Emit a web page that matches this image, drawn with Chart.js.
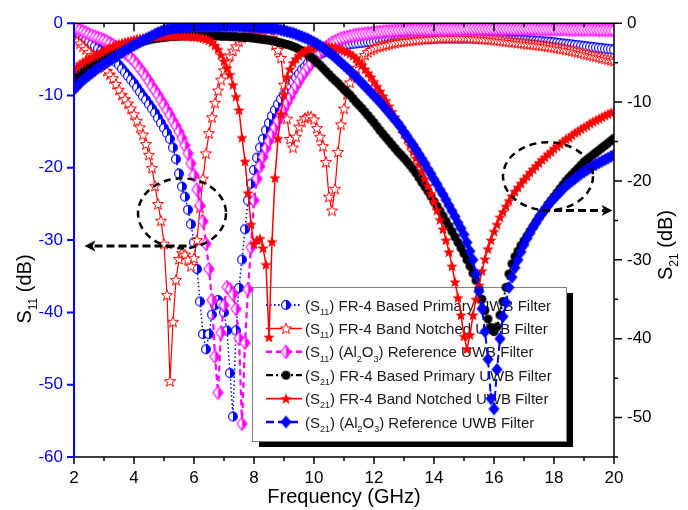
<!DOCTYPE html>
<html>
<head>
<meta charset="utf-8">
<script src="https://cdn.jsdelivr.net/npm/chart.js@4.4.1/dist/chart.umd.min.js"></script>
<style>
  html, body { margin: 0; padding: 0; background: #fff; }
  #wrap { width: 688px; height: 510px; }
</style>
</head>
<body>
<div id="wrap"><canvas id="chart" width="688" height="510"></canvas></div>
<script>
// frequency grid, GHz
const freq = [];
for (let i = 0; i <= 180; i++) freq.push(Math.round((2 + i * 0.1) * 10) / 10);

const xTicks = [2, 4, 6, 8, 10, 12, 14, 16, 18, 20];
const s11Ticks = [0, -10, -20, -30, -40, -50, -60];
const s21Ticks = [0, -10, -20, -30, -40, -50];

// S11 (dB), left axis
const s11Primary = [
  -1.2, -1.4, -1.7, -2.0, -2.3, -2.6, -2.9, -3.2, -3.5, -3.8,
  -4.1, -4.4, -4.8, -5.1, -5.4, -5.8, -6.3, -6.8, -7.3, -7.8,
  -8.3, -8.9, -9.5, -10.1, -10.6, -11.2, -11.8, -12.4, -13.1, -13.8,
  -14.5, -15.2, -16.0, -17.2, -18.8, -20.8, -22.6, -24.0, -25.8, -27.8,
  -30.3, -34.0, -38.5, -43.0, -45.1, -43.0, -40.3, -39.0, -38.3, -38.8,
  -40.0, -42.5, -48.4, -54.4, -42.5, -36.6, -32.7, -28.5, -24.5, -22.2,
  -20.3, -18.6, -17.2, -16.0, -14.8, -13.8, -12.8, -12.0, -11.2, -10.5,
  -9.9, -9.2, -8.6, -8.1, -7.5, -7.0, -6.4, -6.0, -5.5, -5.1,
  -4.8, -4.5, -4.3, -4.1, -3.9, -3.7, -3.6, -3.4, -3.3, -3.2,
  -3.1, -3.0, -2.9, -2.85, -2.8, -2.75, -2.7, -2.65, -2.6, -2.6,
  -2.55, -2.5, -2.5, -2.45, -2.4, -2.4, -2.35, -2.35, -2.3, -2.3,
  -2.3, -2.25, -2.25, -2.2, -2.2, -2.2, -2.2, -2.15, -2.15, -2.15,
  -2.15, -2.1, -2.1, -2.1, -2.1, -2.1, -2.1, -2.1, -2.1, -2.1,
  -2.1, -2.1, -2.1, -2.1, -2.15, -2.15, -2.15, -2.2, -2.2, -2.2,
  -2.2, -2.2, -2.25, -2.25, -2.25, -2.3, -2.3, -2.3, -2.3, -2.3,
  -2.35, -2.35, -2.4, -2.4, -2.45, -2.45, -2.5, -2.55, -2.55, -2.6,
  -2.65, -2.7, -2.75, -2.8, -2.85, -2.9, -2.95, -3.0, -3.05, -3.1,
  -3.15, -3.2, -3.25, -3.3, -3.35, -3.4, -3.45, -3.5, -3.55, -3.6,
  -3.65
];
const s11Notched = [
  -2.2, -2.5, -2.8, -3.2, -3.6, -4.0, -4.4, -4.8, -5.2, -5.7,
  -6.1, -6.6, -7.1, -7.6, -8.4, -9.2, -9.9, -10.5, -11.1, -11.8,
  -12.6, -13.5, -14.4, -15.4, -16.7, -18.2, -20.0, -22.5, -25.0, -27.3,
  -30.5, -37.6, -49.5, -41.3, -35.5, -32.6, -31.8, -32.0, -32.7, -33.6,
  -32.5, -30.0, -25.5, -21.5, -18.0, -15.2, -13.0, -11.0, -9.3, -7.8,
  -6.5, -5.4, -4.5, -3.8, -3.2, -2.5, -2.0, -1.7, -1.6, -1.6,
  -1.6, -1.6, -1.6, -1.6, -1.6, -1.7, -2.0, -3.0, -3.7, -4.8,
  -8.5, -13.2, -16.0, -17.2, -15.7, -14.3, -13.6, -13.1, -12.9, -12.9,
  -13.3, -14.5, -15.7, -17.0, -19.2, -24.0, -25.9, -22.9, -17.8, -14.0,
  -11.8, -9.8, -8.2, -7.1, -6.2, -5.5, -4.9, -4.4, -4.0, -3.7,
  -3.5, -3.3, -3.2, -3.1, -3.0, -2.9, -2.8, -2.7, -2.6, -2.55,
  -2.5, -2.45, -2.4, -2.35, -2.3, -2.25, -2.2, -2.2, -2.15, -2.1,
  -2.1, -2.05, -2.05, -2.0, -2.0, -2.0, -2.0, -2.0, -2.0, -2.0,
  -2.0, -2.0, -2.05, -2.05, -2.1, -2.1, -2.15, -2.2, -2.2, -2.25,
  -2.3, -2.35, -2.4, -2.45, -2.5, -2.55, -2.6, -2.65, -2.7, -2.75,
  -2.8, -2.85, -2.9, -2.95, -3.0, -3.05, -3.1, -3.15, -3.2, -3.3,
  -3.35, -3.4, -3.5, -3.55, -3.65, -3.7, -3.8, -3.9, -4.0, -4.1,
  -4.2, -4.3, -4.4, -4.5, -4.6, -4.7, -4.8, -4.9, -5.0, -5.1,
  -5.2
];
const s11Ref = [
  -0.5, -0.7, -0.9, -1.1, -1.3, -1.5, -1.7, -1.85, -2.0, -2.15,
  -2.3, -2.5, -2.75, -3.0, -3.25, -3.5, -3.8, -4.1, -4.4, -4.8,
  -5.2, -5.7, -6.3, -6.8, -7.4, -8.0, -8.7, -9.3, -9.9, -10.6,
  -11.3, -12.0, -12.7, -13.5, -14.2, -15.0, -15.9, -16.9, -18.0, -19.4,
  -21.0, -23.0, -25.2, -27.4, -30.5, -34.0, -38.3, -46.1, -51.1, -42.8,
  -39.0, -36.5, -36.8, -37.5, -39.5, -43.6, -55.4, -44.2, -36.8, -31.0,
  -24.5, -21.5, -19.8, -18.5, -17.3, -16.3, -15.3, -14.4, -13.5, -12.6,
  -11.8, -11.0, -10.2, -9.4, -8.7, -8.0, -7.3, -6.7, -6.1, -5.6,
  -5.0, -4.5, -4.1, -3.7, -3.3, -3.0, -2.7, -2.5, -2.3, -2.1,
  -2.0, -1.9, -1.8, -1.7, -1.6, -1.55, -1.5, -1.45, -1.4, -1.35,
  -1.3, -1.25, -1.2, -1.15, -1.1, -1.1, -1.05, -1.0, -1.0, -0.95,
  -0.95, -0.9, -0.9, -0.9, -0.9, -0.9, -0.9, -0.9, -0.9, -0.9,
  -0.85, -0.85, -0.85, -0.85, -0.85, -0.85, -0.85, -0.85, -0.85, -0.85,
  -0.8, -0.8, -0.8, -0.8, -0.8, -0.8, -0.8, -0.8, -0.8, -0.8,
  -0.8, -0.8, -0.8, -0.8, -0.8, -0.8, -0.8, -0.8, -0.8, -0.8,
  -0.8, -0.8, -0.8, -0.8, -0.8, -0.85, -0.85, -0.85, -0.85, -0.85,
  -0.85, -0.85, -0.85, -0.85, -0.85, -0.9, -0.9, -0.9, -0.9, -0.9,
  -0.9, -0.9, -0.9, -0.9, -0.9, -0.95, -0.95, -0.95, -0.95, -0.95,
  -1.0
];

// S21 (dB), right axis
const s21Primary = [
  -7.0, -6.7, -6.4, -6.1, -5.8, -5.5, -5.25, -5.0, -4.8, -4.6,
  -4.4, -4.2, -4.0, -3.8, -3.6, -3.4, -3.2, -3.05, -2.9, -2.75,
  -2.6, -2.5, -2.4, -2.3, -2.2, -2.1, -2.0, -1.95, -1.9, -1.85,
  -1.8, -1.75, -1.7, -1.7, -1.65, -1.65, -1.6, -1.6, -1.6, -1.6,
  -1.6, -1.6, -1.6, -1.6, -1.6, -1.6, -1.6, -1.6, -1.6, -1.65,
  -1.65, -1.65, -1.7, -1.7, -1.7, -1.75, -1.75, -1.8, -1.8, -1.85,
  -1.9, -1.95, -2.0, -2.05, -2.1, -2.15, -2.2, -2.3, -2.4, -2.5,
  -2.6, -2.7, -2.8, -2.95, -3.1, -3.3, -3.5, -3.75, -4.0, -4.3,
  -4.6, -5.0, -5.3, -5.7, -6.1, -6.5, -6.9, -7.25, -7.6, -8.0,
  -8.4, -8.75, -9.1, -9.55, -10.0, -10.4, -10.8, -11.25, -11.7, -12.15,
  -12.6, -13.1, -13.6, -14.05, -14.5, -14.95, -15.4, -15.85, -16.3, -16.7,
  -17.1, -17.55, -18.0, -18.5, -19.0, -19.6, -20.2, -20.75, -21.3, -21.95,
  -22.6, -23.2, -23.8, -24.45, -25.1, -25.75, -26.4, -27.1, -27.8, -28.5,
  -29.2, -30.0, -30.8, -31.7, -32.6, -33.7, -35.0, -36.4, -37.5, -38.6,
  -39.1, -38.5, -37.0, -35.3, -33.5, -31.8, -30.5, -29.6, -28.9, -28.2,
  -27.6, -27.0, -26.4, -25.8, -25.2, -24.6, -24.1, -23.6, -23.0, -22.5,
  -22.0, -21.5, -21.0, -20.5, -20.0, -19.6, -19.2, -18.8, -18.4, -18.0,
  -17.6, -17.3, -17.0, -16.7, -16.4, -16.1, -15.8, -15.5, -15.2, -14.9,
  -14.6
];
const s21Notched = [
  -5.8, -5.5, -5.2, -4.95, -4.7, -4.5, -4.3, -4.1, -3.9, -3.7,
  -3.5, -3.3, -3.1, -2.95, -2.8, -2.65, -2.5, -2.4, -2.3, -2.2,
  -2.1, -2.0, -1.95, -1.9, -1.85, -1.8, -1.75, -1.7, -1.7, -1.65,
  -1.65, -1.6, -1.6, -1.6, -1.6, -1.6, -1.6, -1.6, -1.65, -1.65,
  -1.7, -1.75, -1.8, -1.9, -2.0, -2.15, -2.4, -2.8, -3.3, -4.0,
  -4.8, -5.7, -6.5, -7.8, -9.3, -11.0, -14.5, -17.5, -21.5, -25.5,
  -28.0, -27.5, -27.3, -28.5, -30.6, -39.8, -27.7, -19.6, -14.6, -11.5,
  -9.0, -6.8, -5.8, -5.0, -4.5, -4.1, -3.8, -3.5, -3.3, -3.15,
  -3.05, -2.95, -2.9, -2.9, -2.9, -2.95, -3.0, -3.1, -3.2, -3.35,
  -3.5, -3.65, -3.85, -4.1, -4.45, -4.85, -5.3, -5.8, -6.3, -6.8,
  -7.4, -8.0, -8.6, -9.2, -9.8, -10.5, -11.2, -11.9, -12.6, -13.3,
  -14.0, -14.7, -15.5, -16.3, -17.1, -17.9, -18.8, -19.7, -20.6, -21.6,
  -22.6, -23.7, -24.9, -26.1, -27.5, -29.0, -30.8, -32.8, -34.8, -37.0,
  -39.7, -41.3, -39.5, -37.0, -35.0, -33.2, -31.4, -29.9, -28.6, -27.5,
  -26.4, -25.5, -24.6, -23.9, -23.2, -22.5, -21.9, -21.3, -20.8, -20.3,
  -19.8, -19.4, -18.9, -18.5, -18.1, -17.7, -17.3, -17.0, -16.6, -16.3,
  -15.9, -15.6, -15.3, -15.0, -14.7, -14.5, -14.2, -13.9, -13.7, -13.4,
  -13.2, -13.0, -12.7, -12.5, -12.3, -12.1, -11.9, -11.7, -11.5, -11.35,
  -11.2
];
const s21Ref = [
  -8.4, -8.0, -7.6, -7.2, -6.9, -6.6, -6.3, -6.0, -5.7, -5.45,
  -5.2, -4.95, -4.7, -4.45, -4.2, -3.95, -3.7, -3.45, -3.2, -3.0,
  -2.8, -2.6, -2.4, -2.2, -2.0, -1.8, -1.6, -1.4, -1.2, -1.05,
  -0.9, -0.8, -0.7, -0.65, -0.6, -0.55, -0.5, -0.5, -0.45, -0.45,
  -0.4, -0.4, -0.4, -0.4, -0.4, -0.4, -0.4, -0.4, -0.4, -0.4,
  -0.4, -0.4, -0.4, -0.4, -0.4, -0.4, -0.45, -0.45, -0.45, -0.5,
  -0.5, -0.5, -0.55, -0.55, -0.6, -0.6, -0.65, -0.7, -0.75, -0.85,
  -0.95, -1.05, -1.15, -1.25, -1.4, -1.55, -1.7, -1.85, -2.0, -2.2,
  -2.4, -2.6, -2.85, -3.1, -3.4, -3.7, -4.0, -4.3, -4.65, -5.0,
  -5.35, -5.7, -6.05, -6.4, -6.8, -7.2, -7.6, -8.0, -8.4, -8.8,
  -9.2, -9.6, -10.0, -10.45, -10.9, -11.35, -11.8, -12.25, -12.7, -13.2,
  -13.8, -14.3, -14.9, -15.4, -16.0, -16.6, -17.2, -17.8, -18.5, -19.1,
  -19.8, -20.4, -21.1, -21.7, -22.4, -23.1, -23.8, -24.5, -25.3, -26.0,
  -26.8, -27.8, -28.9, -30.0, -31.8, -34.0, -36.2, -39.1, -42.6, -47.6,
  -48.9, -43.9, -40.0, -37.2, -35.4, -33.5, -32.2, -31.0, -30.0, -29.0,
  -28.1, -27.3, -26.6, -25.9, -25.3, -24.7, -24.1, -23.6, -23.1, -22.6,
  -22.2, -21.8, -21.4, -21.0, -20.6, -20.3, -20.0, -19.7, -19.4, -19.1,
  -18.85, -18.6, -18.35, -18.1, -17.9, -17.7, -17.5, -17.3, -17.1, -16.9,
  -16.7
];

const FONT = "'Liberation Sans', Arial, sans-serif";
const BLUE = '#0000ff';
const RED = '#ff0000';
const MAGENTA = '#ff00ff';

// marker sprites
function sprite(w, h, paint) {
  const c = document.createElement('canvas');
  c.width = w; c.height = h;
  paint(c.getContext('2d'), w / 2, h / 2);
  return c;
}
function starPath(g, cx, cy, R, r) {
  g.beginPath();
  for (let i = 0; i < 10; i++) {
    const a = -Math.PI / 2 + i * Math.PI / 5;
    const rr = i % 2 ? r : R;
    g.lineTo(cx + rr * Math.cos(a), cy + rr * Math.sin(a));
  }
  g.closePath();
}
function diamondPath(g, cx, cy, hw, hh) {
  g.beginPath();
  g.moveTo(cx, cy - hh); g.lineTo(cx + hw, cy); g.lineTo(cx, cy + hh); g.lineTo(cx - hw, cy);
  g.closePath();
}
const mk = {
  halfCircle: sprite(12, 12, (g, cx, cy) => {
    g.beginPath(); g.arc(cx, cy, 4.4, 0, Math.PI * 2); g.fillStyle = '#fff'; g.fill();
    g.beginPath(); g.moveTo(cx, cy - 4.4); g.arc(cx, cy, 4.4, -Math.PI / 2, Math.PI / 2); g.closePath();
    g.fillStyle = BLUE; g.fill();
    g.beginPath(); g.arc(cx, cy, 4.4, 0, Math.PI * 2); g.strokeStyle = BLUE; g.lineWidth = 1.1; g.stroke();
  }),
  openStar: sprite(14, 14, (g, cx, cy) => {
    starPath(g, cx, cy + 0.5, 5.8, 2.5);
    g.fillStyle = '#fff'; g.fill();
    g.strokeStyle = RED; g.lineWidth = 1; g.stroke();
  }),
  halfDiamond: sprite(13, 16, (g, cx, cy) => {
    diamondPath(g, cx, cy, 5, 6.5); g.fillStyle = '#fff'; g.fill();
    g.beginPath(); g.moveTo(cx, cy - 6.5); g.lineTo(cx + 5, cy); g.lineTo(cx, cy + 6.5); g.closePath();
    g.fillStyle = MAGENTA; g.fill();
    diamondPath(g, cx, cy, 5, 6.5); g.strokeStyle = MAGENTA; g.lineWidth = 1.1; g.stroke();
  }),
  dot: sprite(11, 11, (g, cx, cy) => {
    g.beginPath(); g.arc(cx, cy, 4.5, 0, Math.PI * 2); g.fillStyle = '#000'; g.fill();
  }),
  fullStar: sprite(14, 14, (g, cx, cy) => {
    starPath(g, cx, cy + 0.5, 6, 2.6); g.fillStyle = RED; g.fill();
  }),
  fullDiamond: sprite(13, 15, (g, cx, cy) => {
    diamondPath(g, cx, cy, 5.5, 6.5); g.fillStyle = BLUE; g.fill();
  })
};

const pts = arr => freq.map((f, i) => ({ x: f, y: arr[i] }));

const series = [
  { key: 's11Primary', data: s11Primary, axis: 'y', color: BLUE, dash: [1.5, 2.5], width: 1.5, marker: mk.halfCircle,
    label: [['(S', 0], ['11', 1], [') FR-4 Based Primary UWB Filter', 0]] },
  { key: 's11Notched', data: s11Notched, axis: 'y', color: RED, dash: [], width: 1.2, marker: mk.openStar,
    label: [['(S', 0], ['11', 1], [') FR-4 Band Notched UWB Filter', 0]] },
  { key: 's11Ref', data: s11Ref, axis: 'y', color: MAGENTA, dash: [6, 4], width: 2.2, marker: mk.halfDiamond,
    label: [['(S', 0], ['11', 1], [') (Al', 0], ['2', 1], ['O', 0], ['3', 1], [') Reference UWB Filter', 0]] },
  { key: 's21Primary', data: s21Primary, axis: 'y2', color: '#000', dash: [7, 3, 2, 3], width: 2, marker: mk.dot,
    label: [['(S', 0], ['21', 1], [') FR-4 Based Primary UWB Filter', 0]] },
  { key: 's21Notched', data: s21Notched, axis: 'y2', color: RED, dash: [], width: 1.5, marker: mk.fullStar,
    label: [['(S', 0], ['21', 1], [') FR-4 Band Notched UWB Filter', 0]] },
  { key: 's21Ref', data: s21Ref, axis: 'y2', color: BLUE, dash: [8, 4], width: 2, marker: mk.fullDiamond,
    label: [['(S', 0], ['21', 1], [') (Al', 0], ['2', 1], ['O', 0], ['3', 1], [') Reference UWB Filter', 0]] }
];

// text with subscripts, baseline at y
function richWidth(ctx, segs, size) {
  let w = 0;
  for (const [t, sub] of segs) {
    ctx.font = (sub ? Math.round(size * 0.62) : size) + 'px ' + FONT;
    w += ctx.measureText(t).width;
  }
  return w;
}
function drawRich(ctx, segs, x, y, size) {
  let cx = x;
  for (const [t, sub] of segs) {
    ctx.font = (sub ? Math.round(size * 0.62) : size) + 'px ' + FONT;
    ctx.fillText(t, cx, sub ? y + size * 0.28 : y);
    cx += ctx.measureText(t).width;
  }
}

// legend box sits under the curves
const legendBox = {
  id: 'legendBox',
  beforeDatasetsDraw(chart) {
    const ctx = chart.ctx;
    const L = 252, T = 287, W = 314, H = 154;
    ctx.save();
    ctx.fillStyle = '#000';
    ctx.fillRect(L + 7, T + 6, W, H);
    ctx.fillStyle = '#fff';
    ctx.fillRect(L, T, W, H);
    ctx.strokeStyle = '#808080';
    ctx.lineWidth = 1;
    ctx.strokeRect(L + 0.5, T + 0.5, W, H);
    series.forEach((s, i) => {
      const cy = 305 + i * 23.4;
      ctx.strokeStyle = s.color;
      ctx.lineWidth = s.width + 0.3;
      ctx.setLineDash(s.dash);
      ctx.beginPath(); ctx.moveTo(266, cy); ctx.lineTo(302, cy); ctx.stroke();
      ctx.setLineDash([]);
      ctx.drawImage(s.marker, 286 - s.marker.width / 2, cy - s.marker.height / 2);
      ctx.fillStyle = '#1a1a1a';
      ctx.textBaseline = 'alphabetic';
      drawRich(ctx, s.label, 305, cy + 5.5, 15);
    });
    ctx.restore();
  }
};

// dashed ellipses and arrows pointing to each axis
const callouts = {
  id: 'callouts',
  afterDatasetsDraw(chart) {
    const { ctx, scales: { x, y, y2 } } = chart;
    ctx.save();
    ctx.strokeStyle = '#000';
    ctx.fillStyle = '#000';
    ctx.lineWidth = 2.5;
    ctx.setLineDash([7, 5]);
    ctx.beginPath();
    ctx.ellipse(x.getPixelForValue(5.6), y.getPixelForValue(-26.3), 44, 35, 0, 0, Math.PI * 2);
    ctx.stroke();
    ctx.beginPath();
    ctx.ellipse(x.getPixelForValue(17.8), y2.getPixelForValue(-19.4), 45, 34, 0, 0, Math.PI * 2);
    ctx.stroke();

    function arrow(x0, x1, yy) {
      const dir = Math.sign(x1 - x0);
      ctx.lineWidth = 3;
      ctx.setLineDash([8, 4]);
      ctx.beginPath(); ctx.moveTo(x0, yy); ctx.lineTo(x1 - dir * 8, yy); ctx.stroke();
      ctx.setLineDash([]);
      ctx.beginPath();
      ctx.moveTo(x1, yy);
      ctx.lineTo(x1 - dir * 11, yy - 5.5);
      ctx.lineTo(x1 - dir * 8, yy);
      ctx.lineTo(x1 - dir * 11, yy + 5.5);
      ctx.closePath();
      ctx.fill();
    }
    arrow(x.getPixelForValue(5.75), x.getPixelForValue(2.35), y.getPixelForValue(-30.8));
    arrow(x.getPixelForValue(17.6), x.getPixelForValue(19.95), y2.getPixelForValue(-23.75));
    ctx.restore();
  }
};

// axis lines, tick marks and titles
const frame = {
  id: 'frame',
  afterDraw(chart) {
    const { ctx, chartArea: a, scales: { x, y, y2 } } = chart;
    ctx.save();
    ctx.lineCap = 'butt';
    ctx.strokeStyle = '#000';
    ctx.lineWidth = 1.5;
    ctx.beginPath();
    ctx.moveTo(a.left, a.bottom); ctx.lineTo(a.right, a.bottom);
    ctx.moveTo(a.left, a.top); ctx.lineTo(a.right + 0.75, a.top);
    ctx.moveTo(a.right, a.top); ctx.lineTo(a.right, a.bottom + 0.75);
    for (let f = 2; f <= 20; f++) {
      const px = x.getPixelForValue(f);
      const major = f % 2 === 0;
      ctx.moveTo(px, a.bottom); ctx.lineTo(px, a.bottom + (major ? 7 : 4));
      ctx.moveTo(px, a.top); ctx.lineTo(px, a.top + (major ? 8 : 4));
    }
    for (let v = 0; v >= -55; v -= 5) {
      const py = y2.getPixelForValue(v);
      ctx.moveTo(a.right, py); ctx.lineTo(a.right + (v % 10 === 0 ? 8 : 4), py);
    }
    ctx.stroke();

    ctx.strokeStyle = BLUE;
    ctx.lineWidth = 2;
    ctx.beginPath();
    ctx.moveTo(a.left, a.top - 1); ctx.lineTo(a.left, a.bottom + 1);
    for (const v of s11Ticks) {
      const py = y.getPixelForValue(v);
      ctx.moveTo(a.left, py); ctx.lineTo(a.left - 7, py);
    }
    ctx.stroke();

    ctx.fillStyle = '#000';
    ctx.textBaseline = 'alphabetic';
    const xt = [['Frequency (GHz)', 0]];
    drawRich(ctx, xt, 344 - richWidth(ctx, xt, 20) / 2, 503, 20);

    const lt = [['S', 0], ['11', 1], [' (dB)', 0]];
    ctx.translate(31, 289);
    ctx.rotate(-Math.PI / 2);
    drawRich(ctx, lt, -richWidth(ctx, lt, 20) / 2, 0, 20);
    ctx.setTransform(1, 0, 0, 1, 0, 0);

    const rt = [['S', 0], ['21', 1], [' (dB)', 0]];
    ctx.translate(672, 245);
    ctx.rotate(-Math.PI / 2);
    drawRich(ctx, rt, -richWidth(ctx, rt, 20) / 2, 0, 20);
    ctx.restore();
  }
};

Chart.defaults.font.family = FONT;

new Chart(document.getElementById('chart'), {
  type: 'line',
  data: {
    datasets: series.map((s, i) => ({
      label: s.key,
      data: pts(s.data),
      yAxisID: s.axis,
      borderColor: s.color,
      backgroundColor: s.color,
      borderWidth: s.width,
      borderDash: s.dash,
      pointStyle: s.marker,
      pointRadius: 5,
      tension: 0,
      fill: false,
      order: series.length - i
    }))
  },
  options: {
    responsive: false,
    animation: false,
    devicePixelRatio: 1,
    layout: { padding: { top: 17, left: 0, right: 0, bottom: 0 } },
    plugins: { legend: { display: false }, tooltip: { enabled: false } },
    scales: {
      x: {
        type: 'linear', min: 2, max: 20,
        grid: { display: false, drawTicks: false },
        border: { display: false },
        afterBuildTicks: sc => { sc.ticks = xTicks.map(v => ({ value: v })); },
        ticks: { color: '#000', font: { size: 17 }, padding: 11, maxRotation: 0 },
        afterFit: sc => { sc.height = 53; }
      },
      y: {
        position: 'left', min: -60, max: 0,
        grid: { display: false, drawTicks: false },
        border: { display: false },
        afterBuildTicks: sc => { sc.ticks = s11Ticks.map(v => ({ value: v })); },
        ticks: { color: BLUE, font: { size: 17 }, padding: 11 },
        afterFit: sc => { sc.width = 74; }
      },
      y2: {
        position: 'right', min: -55, max: 0,
        grid: { display: false, drawTicks: false },
        border: { display: false },
        afterBuildTicks: sc => { sc.ticks = s21Ticks.map(v => ({ value: v })); },
        ticks: { color: '#000', font: { size: 17 }, padding: 13 },
        afterFit: sc => { sc.width = 74; }
      }
    }
  },
  plugins: [legendBox, callouts, frame]
});
</script>
</body>
</html>
